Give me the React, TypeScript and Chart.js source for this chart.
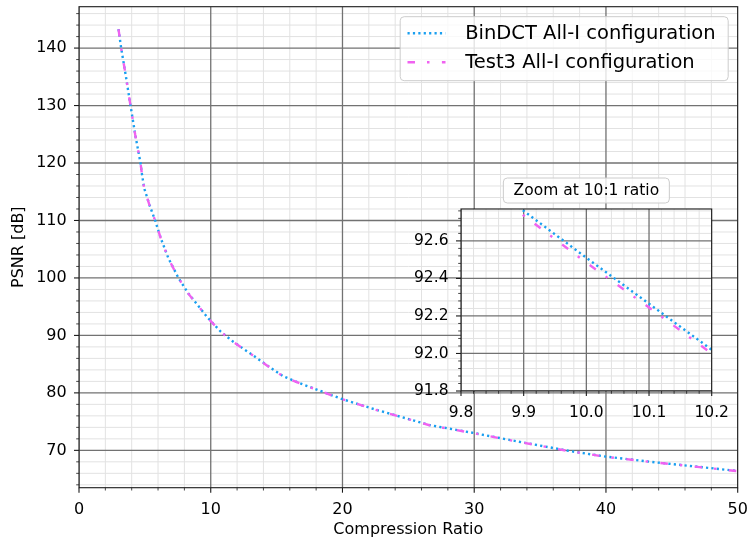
import React, { useEffect, useRef } from "react";
import { Chart, registerables } from "chart.js";

Chart.register(...registerables);

const FONT = "'DejaVu Sans', 'Liberation Sans', sans-serif";

// Compression ratio sampled along the curves
const ratio = [
  3.0, 3.2, 3.56, 3.91, 4.27, 4.67, 4.77, 4.95, 5.35, 5.78, 6.21, 6.79, 7.55, 8.3, 9.0, 9.7,
  9.8, 9.9, 10.0, 10.1, 10.2, 10.76, 11.71, 12.4, 12.98, 14.24, 15.5, 16.77, 20.0, 22.5, 26.6,
  30.0, 33.4, 37.2, 40.0, 43.8, 48.0, 50.0,
];

// PSNR [dB] of the BinDCT All-I configuration
const psnrBinDCT = [
  143.3, 140.0, 135.1, 130.0, 124.9, 120.0, 118.2, 115.6, 112.7, 110.0, 106.9, 103.4, 100.0, 97.3,
  95.3, 93.27, 93.01, 92.76, 92.51, 92.265, 92.02, 90.65, 88.9, 87.8, 86.9, 84.85, 82.9, 81.67,
  78.9, 77.1, 74.4, 73.0, 71.5, 69.9, 68.9, 67.9, 66.9, 66.4,
];

// PSNR [dB] of the Test3 All-I configuration
const psnrTest3 = [
  143.28, 139.98, 135.07, 129.97, 124.87, 119.97, 118.17, 115.57, 112.67, 109.97, 106.87, 103.37,
  99.97, 97.27, 95.27, 93.25, 92.99, 92.735, 92.484, 92.245, 92.0, 90.62, 88.87, 87.77, 86.87,
  84.82, 82.87, 81.64, 78.87, 77.07, 74.37, 72.97, 71.47, 69.87, 68.87, 67.87, 66.87, 66.37,
];

const seriesNames = ["BinDCT All-I configuration", "Test3 All-I configuration"];
const seriesColors = ["#1a9ff0", "#f062f0"];
const seriesDash = [
  [2.2, 3.2],
  [7.5, 12, 2.5, 12.4],
];

// main axes
const mainXRange = [0, 50];
const mainYRange = [63.5, 147.2];
const mainXMajor = [0, 10, 20, 30, 40, 50];
const mainYMajor = [70, 80, 90, 100, 110, 120, 130, 140];
const mainXMinorStep = 2;
const mainYMinorStep = 2;
const mainXTitle = "Compression Ratio";
const mainYTitle = "PSNR [dB]";

// inset axes
const insetXRange = [9.8, 10.2];
const insetYRange = [91.8, 92.77];
const insetXMajor = [9.8, 9.9, 10.0, 10.1, 10.2];
const insetYMajor = [91.8, 92.0, 92.2, 92.4, 92.6];
const insetXMinorStep = 0.02;
const insetYMinorStep = 0.04;
const insetTitle = "Zoom at 10:1 ratio";

const MAJOR_GRID = "#727272";
const MINOR_GRID = "#e2e2e2";
const SPINE = "#1a1a1a";

function buildTicks(min: number, max: number, step: number): number[] {
  const out: number[] = [];
  const start = Math.ceil(min / step - 1e-9);
  const end = Math.floor(max / step + 1e-9);
  for (let i = start; i <= end; i++) out.push(Math.round(i * step * 1e6) / 1e6);
  return out;
}

const isMajor = (v: number, majors: number[]) => majors.some((m) => Math.abs(m - v) < 1e-6);

function makeDatasets() {
  const series = [psnrBinDCT, psnrTest3];
  return series.map((vals, i) => ({
    label: seriesNames[i],
    data: ratio.map((r, k) => ({ x: r, y: vals[k] })),
    borderColor: seriesColors[i],
    backgroundColor: seriesColors[i],
    borderWidth: 2.4,
    borderDash: seriesDash[i],
    borderCapStyle: "butt" as const,
    pointRadius: 0,
    tension: 0,
    fill: false,
    order: i === 0 ? 1 : 0,
  }));
}

interface AxisSpec {
  axis: "x" | "y";
  range: number[];
  majors: number[];
  minorStep: number;
  decimals: number;
  fontSize: number;
  size: number;
  padding: number;
  title?: string;
  titlePad?: { top: number; bottom: number };
}

function axisOptions(s: AxisSpec) {
  return {
    type: "linear" as const,
    min: s.range[0],
    max: s.range[1],
    afterBuildTicks: (scale: any) => {
      scale.ticks = buildTicks(s.range[0], s.range[1], s.minorStep).map((v) => ({ value: v }));
    },
    afterFit: (scale: any) => {
      if (s.axis === "x") scale.height = s.size;
      else scale.width = s.size;
      scale.paddingLeft = 0;
      scale.paddingRight = 0;
      scale.paddingTop = 0;
      scale.paddingBottom = 0;
    },
    ticks: {
      autoSkip: false,
      maxRotation: 0,
      minRotation: 0,
      padding: s.padding,
      color: "#000",
      font: { family: FONT, size: s.fontSize },
      callback: (v: any) => (isMajor(Number(v), s.majors) ? Number(v).toFixed(s.decimals) : ""),
    },
    grid: { display: false, drawTicks: false },
    border: { display: false },
    title: s.title
      ? {
          display: true,
          text: s.title,
          color: "#000",
          font: { family: FONT, size: s.fontSize },
          padding: s.titlePad,
        }
      : { display: false },
  };
}

// minor grid first, then major grid on top, beneath the curves
function gridPlugin(xMajors: number[], yMajors: number[]) {
  return {
    id: "layeredGrid",
    beforeDatasetsDraw(chart: any) {
      const { ctx, chartArea: a } = chart;
      const xs = chart.scales.x;
      const ys = chart.scales.y;
      ctx.save();
      ctx.beginPath();
      ctx.rect(a.left, a.top, a.right - a.left, a.bottom - a.top);
      ctx.clip();
      ctx.setLineDash([]);
      for (const pass of [false, true]) {
        ctx.strokeStyle = pass ? MAJOR_GRID : MINOR_GRID;
        ctx.lineWidth = pass ? 1.3 : 1;
        for (const t of xs.ticks) {
          if (isMajor(t.value, xMajors) !== pass) continue;
          const px = xs.getPixelForValue(t.value);
          ctx.beginPath();
          ctx.moveTo(px, a.top);
          ctx.lineTo(px, a.bottom);
          ctx.stroke();
        }
        for (const t of ys.ticks) {
          if (isMajor(t.value, yMajors) !== pass) continue;
          const py = ys.getPixelForValue(t.value);
          ctx.beginPath();
          ctx.moveTo(a.left, py);
          ctx.lineTo(a.right, py);
          ctx.stroke();
        }
      }
      ctx.restore();
    },
  };
}

// spines plus outward tick marks on the left and bottom axes
function frameTicksPlugin(xMajors: number[], yMajors: number[]) {
  return {
    id: "frameTicks",
    afterDraw(chart: any) {
      const { ctx, chartArea: a } = chart;
      const xs = chart.scales.x;
      const ys = chart.scales.y;
      ctx.save();
      ctx.setLineDash([]);
      ctx.strokeStyle = SPINE;
      for (const t of xs.ticks) {
        const major = isMajor(t.value, xMajors);
        const px = xs.getPixelForValue(t.value);
        ctx.lineWidth = major ? 1.1 : 0.8;
        ctx.beginPath();
        ctx.moveTo(px, a.bottom);
        ctx.lineTo(px, a.bottom + (major ? 5 : 2.8));
        ctx.stroke();
      }
      for (const t of ys.ticks) {
        const major = isMajor(t.value, yMajors);
        const py = ys.getPixelForValue(t.value);
        ctx.lineWidth = major ? 1.1 : 0.8;
        ctx.beginPath();
        ctx.moveTo(a.left, py);
        ctx.lineTo(a.left - (major ? 5 : 2.8), py);
        ctx.stroke();
      }
      ctx.lineWidth = 1.1;
      ctx.strokeRect(a.left, a.top, a.right - a.left, a.bottom - a.top);
      ctx.restore();
    },
  };
}

function roundedBox(ctx: CanvasRenderingContext2D, x: number, y: number, w: number, h: number, r: number) {
  ctx.beginPath();
  ctx.moveTo(x + r, y);
  ctx.arcTo(x + w, y, x + w, y + h, r);
  ctx.arcTo(x + w, y + h, x, y + h, r);
  ctx.arcTo(x, y + h, x, y, r);
  ctx.arcTo(x, y, x + w, y, r);
  ctx.closePath();
}

const legendPlugin = {
  id: "boxLegend",
  afterDraw(chart: any) {
    const ctx: CanvasRenderingContext2D = chart.ctx;
    const a = chart.chartArea;
    const boxW = 328;
    const boxH = 64;
    const x = a.right - 9.5 - boxW;
    const y = a.top + 10;
    ctx.save();
    roundedBox(ctx, x, y, boxW, boxH, 4);
    ctx.fillStyle = "rgba(255,255,255,0.8)";
    ctx.fill();
    ctx.strokeStyle = "#cccccc";
    ctx.lineWidth = 1;
    ctx.stroke();
    seriesNames.forEach((name, i) => {
      const cy = y + 16.6 + i * 29;
      ctx.setLineDash(seriesDash[i]);
      ctx.lineDashOffset = 0;
      ctx.strokeStyle = seriesColors[i];
      ctx.lineWidth = 2.4;
      ctx.lineCap = "butt";
      ctx.beginPath();
      ctx.moveTo(x + 7.3, cy);
      ctx.lineTo(x + 45.3, cy);
      ctx.stroke();
      ctx.setLineDash([]);
      ctx.fillStyle = "#000";
      ctx.font = `19.5px ${FONT}`;
      ctx.textBaseline = "middle";
      ctx.textAlign = "left";
      ctx.fillText(name, x + 65, cy + 1);
    });
    ctx.restore();
  },
};

const insetBackground = {
  id: "insetBackground",
  beforeDraw(chart: any) {
    const { ctx, chartArea: a } = chart;
    ctx.save();
    ctx.fillStyle = "#ffffff";
    ctx.fillRect(a.left, a.top, a.right - a.left, a.bottom - a.top);
    ctx.restore();
  },
};

const insetTitlePlugin = {
  id: "insetTitle",
  afterDraw(chart: any) {
    const ctx: CanvasRenderingContext2D = chart.ctx;
    const a = chart.chartArea;
    const cx = (a.left + a.right) / 2;
    const w = 166;
    const h = 25;
    const top = a.top - 31;
    ctx.save();
    roundedBox(ctx, cx - w / 2, top, w, h, 4);
    ctx.fillStyle = "rgba(255,255,255,0.8)";
    ctx.fill();
    ctx.strokeStyle = "#cccccc";
    ctx.lineWidth = 1;
    ctx.stroke();
    ctx.fillStyle = "#000";
    ctx.font = `15.5px ${FONT}`;
    ctx.textAlign = "center";
    ctx.textBaseline = "middle";
    ctx.fillText(insetTitle, cx, top + h / 2 + 0.5);
    ctx.restore();
  },
};

export default function App() {
  const mainRef = useRef<HTMLCanvasElement>(null);
  const insetRef = useRef<HTMLCanvasElement>(null);

  useEffect(() => {
    const main = new Chart(mainRef.current!, {
      type: "line",
      data: { datasets: makeDatasets() as any },
      options: {
        animation: false,
        responsive: false,
        devicePixelRatio: 1,
        layout: { padding: { top: 6.7, right: 12.3, bottom: 0, left: 0 } },
        plugins: { legend: { display: false }, tooltip: { enabled: false } },
        scales: {
          x: axisOptions({
            axis: "x",
            range: mainXRange,
            majors: mainXMajor,
            minorStep: mainXMinorStep,
            decimals: 0,
            fontSize: 16,
            size: 54.3,
            padding: 13,
            title: mainXTitle,
            titlePad: { top: 0, bottom: 3 },
          }),
          y: axisOptions({
            axis: "y",
            range: mainYRange,
            majors: mainYMajor,
            minorStep: mainYMinorStep,
            decimals: 0,
            fontSize: 16,
            size: 79,
            padding: 12.3,
            title: mainYTitle,
            titlePad: { top: 9, bottom: 0 },
          }),
        } as any,
      },
      plugins: [gridPlugin(mainXMajor, mainYMajor), frameTicksPlugin(mainXMajor, mainYMajor), legendPlugin],
    });

    const inset = new Chart(insetRef.current!, {
      type: "line",
      data: { datasets: makeDatasets() as any },
      options: {
        animation: false,
        responsive: false,
        devicePixelRatio: 1,
        layout: { padding: { top: 39, right: 28.3, bottom: 0, left: 0 } },
        plugins: { legend: { display: false }, tooltip: { enabled: false } },
        scales: {
          x: axisOptions({
            axis: "x",
            range: insetXRange,
            majors: insetXMajor,
            minorStep: insetXMinorStep,
            decimals: 1,
            fontSize: 15.5,
            size: 29,
            padding: 12.5,
          }),
          y: axisOptions({
            axis: "y",
            range: insetYRange,
            majors: insetYMajor,
            minorStep: insetYMinorStep,
            decimals: 1,
            fontSize: 15.5,
            size: 61,
            padding: 12.5,
          }),
        } as any,
      },
      plugins: [
        insetBackground,
        gridPlugin(insetXMajor, insetYMajor),
        frameTicksPlugin(insetXMajor, insetYMajor),
        insetTitlePlugin,
      ],
    });

    return () => {
      main.destroy();
      inset.destroy();
    };
  }, []);

  return (
    <div style={{ position: "absolute", left: 0, top: 0, width: 750, height: 542, background: "#fff" }}>
      <canvas ref={mainRef} width={750} height={542} style={{ position: "absolute", left: 0, top: 0 }} />
      <canvas ref={insetRef} width={340} height={250} style={{ position: "absolute", left: 400, top: 170 }} />
    </div>
  );
}
